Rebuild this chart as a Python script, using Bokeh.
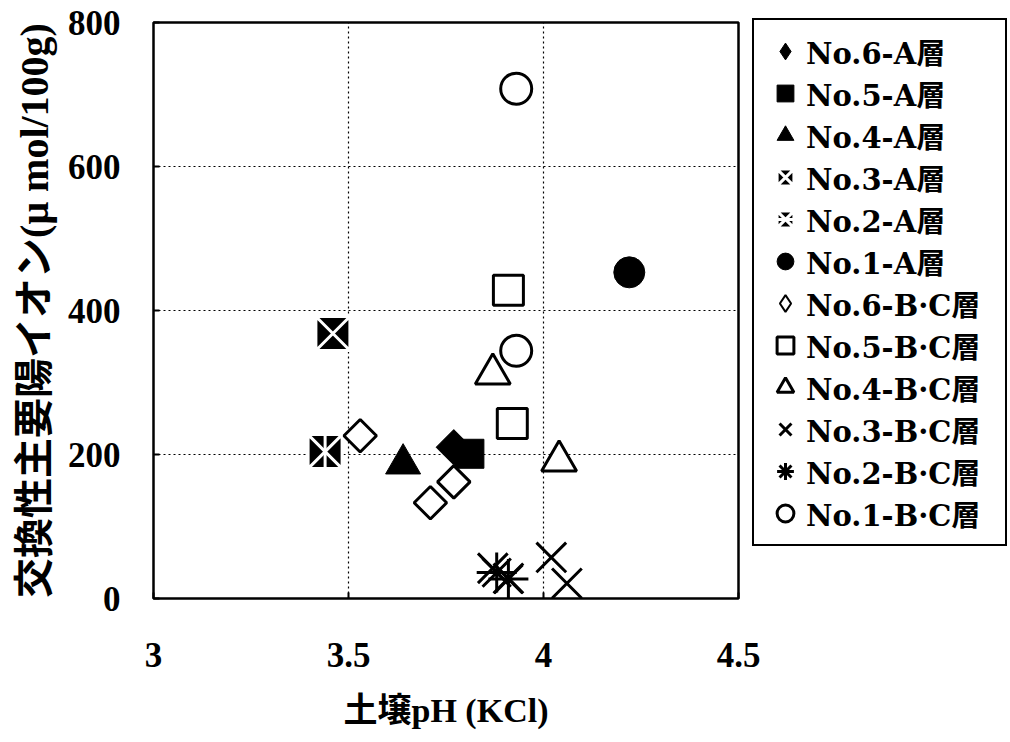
import numpy as np
from bokeh.plotting import figure
from bokeh.models import Range1d, Legend, LegendItem, FixedTicker, CustomJSTickFormatter
from bokeh.embed import file_html
from bokeh.resources import INLINE

# ---- data ----
x_ticks = [3, 3.5, 4, 4.5]
y_ticks = [0, 200, 400, 600, 800]

a6_x = [3.77]; a6_y = [210]          # No.6-A層
a5_x = [3.81]; a5_y = [201]          # No.5-A層
a4_x = [3.64]; a4_y = [187]          # No.4-A層
a3_x = [3.46]; a3_y = [368]          # No.3-A層
a2_x = [3.44]; a2_y = [204]          # No.2-A層
a1_x = [4.22]; a1_y = [453]          # No.1-A層
bc6_x = [3.53, 3.77, 3.71]; bc6_y = [226, 162, 133]          # No.6-B・C層
bc5_x = [3.91, 3.92]; bc5_y = [428, 243]                     # No.5-B・C層
bc4_x = [3.87, 4.04]; bc4_y = [312, 191]                     # No.4-B・C層
bc3_x = [3.87, 3.91, 4.02, 4.06]; bc3_y = [42, 28, 57, 21]   # No.3-B・C層
bc2_x = [3.88, 3.91]; bc2_y = [36, 27]                       # No.2-B・C層
bc1_x = [3.93, 3.93]; bc1_y = [708, 344]                     # No.1-B・C層

labels = ["No.6-A層", "No.5-A層", "No.4-A層", "No.3-A層", "No.2-A層", "No.1-A層",
          "No.6-B·C層", "No.5-B·C層", "No.4-B·C層", "No.3-B·C層", "No.2-B·C層", "No.1-B·C層"]

SERIF = "Liberation Serif, 'Noto Sans CJK JP', serif"
LEG_FONT = "'DejaVu Serif', 'Noto Sans CJK JP', serif"

p = figure(frame_width=585, frame_height=576,
           min_border_left=153, min_border_right=267, min_border_top=22, min_border_bottom=142,
           x_range=Range1d(3, 4.5), y_range=Range1d(0, 800),
           output_backend="svg", toolbar_location=None,
           background_fill_color="white", border_fill_color="white")

p.outline_line_color = "black"
p.outline_line_width = 2.5
p.outline_line_alpha = 1.0

fmt = CustomJSTickFormatter(code="return String(tick);")
p.xaxis.ticker = FixedTicker(ticks=x_ticks)
p.yaxis.ticker = FixedTicker(ticks=y_ticks)
p.xaxis.formatter = fmt
p.yaxis.formatter = fmt
for ax in (p.xaxis[0], p.yaxis[0]):
    ax.axis_line_color = None
    ax.major_tick_in = 6
    ax.major_tick_out = 0
    ax.major_tick_line_width = 2
    ax.major_tick_line_color = "black"
    ax.minor_tick_line_color = None
    ax.major_label_text_font = SERIF
    ax.major_label_text_font_style = "bold"
    ax.major_label_text_font_size = "35px"
    ax.major_label_text_color = "black"
    ax.axis_label_text_font = SERIF
    ax.axis_label_text_font_style = "bold"
    ax.axis_label_text_color = "black"

p.xaxis.major_label_standoff = 44
p.yaxis.major_label_standoff = 33
p.xaxis.axis_label = "土壌pH (KCl)"
p.xaxis.axis_label_text_font_size = "34px"
p.xaxis.axis_label_standoff = 22
p.yaxis.axis_label = "交換性主要陽イオン(μ mol/100g)"
p.yaxis.axis_label_text_font_size = "40px"
p.yaxis.axis_label_standoff = 8

p.xgrid.ticker = FixedTicker(ticks=x_ticks)
p.ygrid.ticker = FixedTicker(ticks=y_ticks)
for g in (p.xgrid[0], p.ygrid[0]):
    g.grid_line_color = "black"
    g.grid_line_dash = "2 3"
    g.grid_line_width = 1.2

LW = 3
r_a6 = p.scatter(a6_x, a6_y, marker="square", angle=np.pi / 4, size=25,
                 fill_color="black", line_color="black")
r_a5 = p.scatter(a5_x, a5_y, marker="square", size=29, fill_color="black", line_color="black")
r_a4 = p.scatter(a4_x, a4_y, marker="triangle", size=35, fill_color="black", line_color="black")
r_a3 = p.scatter(a3_x, a3_y, marker="square_x", size=34, fill_color="black",
                 line_color="white", line_width=LW)
r_a2 = p.scatter(a2_x, a2_y, marker="square_x", size=34, fill_color="black",
                 line_color="white", line_width=LW)
r_a2b = p.scatter(a2_x, a2_y, marker="dash", angle=np.pi / 2, size=32,
                  line_color="white", line_width=LW)
r_a1 = p.scatter(a1_x, a1_y, marker="circle", size=31, fill_color="black", line_color="black")
r_b6 = p.scatter(bc6_x, bc6_y, marker="square", angle=np.pi / 4, size=23,
                 fill_color="white", line_color="black", line_width=LW)
r_b5 = p.scatter(bc5_x, bc5_y, marker="square", size=30, fill_color="white",
                 line_color="black", line_width=LW)
r_b4 = p.scatter(bc4_x, bc4_y, marker="triangle", size=35, fill_color="white",
                 line_color="black", line_width=LW)
r_b3 = p.scatter(bc3_x, bc3_y, marker="x", size=42, line_color="black", line_width=LW)
r_b2 = p.scatter(bc2_x, bc2_y, marker="asterisk", size=40, line_color="black", line_width=LW)
r_b1 = p.scatter(bc1_x, bc1_y, marker="circle", size=31, fill_color="white",
                 line_color="black", line_width=LW)

# legend-only glyphs for the diamond symbols (legend glyphs ignore the rotation angle)
leg_a6 = p.scatter([np.nan], [np.nan], marker="diamond", fill_color="black", line_color="black")
leg_b6 = p.scatter([np.nan], [np.nan], marker="diamond", fill_color="white", line_color="black",
                   line_width=2)

rends = [[leg_a6], [r_a5], [r_a4], [r_a3], [r_a2, r_a2b], [r_a1],
         [leg_b6], [r_b5], [r_b4], [r_b3], [r_b2], [r_b1]]
items = [LegendItem(label=l, renderers=r) for l, r in zip(labels, rends)]

legend = Legend(items=items, location=(14, 52), orientation="vertical",
                glyph_width=42, glyph_height=42, label_standoff=0, spacing=0,
                padding=10, margin=0, label_width=189,
                border_line_color="black", border_line_width=2.5, border_line_alpha=1.0,
                background_fill_color="white", background_fill_alpha=1.0,
                label_text_font=LEG_FONT, label_text_font_size="29px",
                label_text_font_style="bold", label_text_color="black")
p.add_layout(legend, "right")

open("out.html", "w").write(file_html(p, INLINE))
